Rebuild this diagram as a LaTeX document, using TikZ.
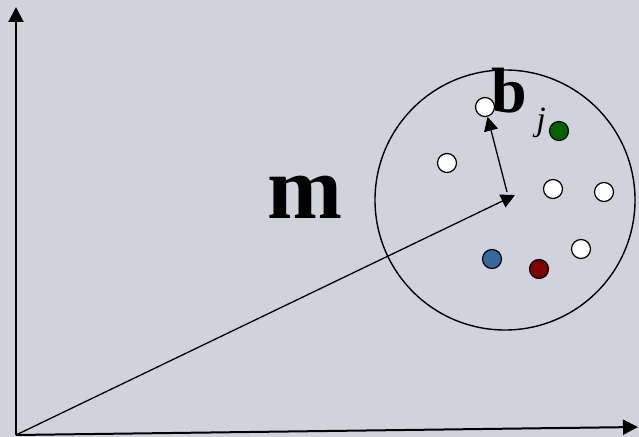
\documentclass[tikz,border=0pt]{standalone}
\usepackage{fontspec}
\setmainfont{Liberation Serif}
\usetikzlibrary{positioning, arrows.meta}

\definecolor{bgcol}{RGB}{208,211,219}
\definecolor{ptgreen}{RGB}{0,100,0}
\definecolor{ptblue}{RGB}{54,104,158}
\definecolor{ptred}{RGB}{128,0,0}

\begin{document}
\begin{tikzpicture}[
  x=1bp, y=-1bp,
  axis/.style={line width=2bp, -{Triangle[length=15bp, width=15bp]}},
  vec/.style={line width=1.3bp, -{Triangle[length=14bp, width=14bp]}},
  dot/.style={circle, draw, line width=1.2bp, minimum size=19bp, inner sep=0pt, fill=white},
  bigletter/.style={inner sep=0pt, anchor=base, font=\fontsize{#1}{#1}\selectfont\bfseries},
]
  \fill[bgcol] (0,0) rectangle (639,437);
  \useasboundingbox (0,0) rectangle (639,437);

  % axes
  \coordinate (origin) at (16,435);
  \coordinate (yend) at (16,7);
  \coordinate (xend) at (638,427);
  \draw[axis] (origin) -- (yend);
  \draw[axis] (origin) -- (xend);

  % cluster
  \coordinate (centre) at (505,200);
  \coordinate (mtip) at (515,195);
  \coordinate (btail) at (507,192);
  \draw[line width=1.4bp] (centre) circle[radius=130];

  \node[dot] (p1) at (485,107) {};
  \node[dot, fill=ptgreen] (pj) at (559,131) {};
  \node[dot] (p2) at (447,163) {};
  \node[dot] (p3) at (553,189) {};
  \node[dot] (p4) at (604,192) {};
  \node[dot] (p5) at (581,249) {};
  \node[dot, fill=ptblue] (p6) at (492,259) {};
  \node[dot, fill=ptred] (p7) at (539,269) {};

  \draw[vec] (origin) -- (mtip);
  \draw[vec] (btail) -- (p1);

  % labels
  \node[bigletter=90bp] (mlabel) at (305,219) {m};
  \node[bigletter=64bp] (blabel) at (509,113) {b};
  \node[inner sep=0pt, anchor=base, font=\fontsize{34bp}{34bp}\selectfont\itshape]
       (jlabel) at (541,131) {j};
\end{tikzpicture}
\end{document}
